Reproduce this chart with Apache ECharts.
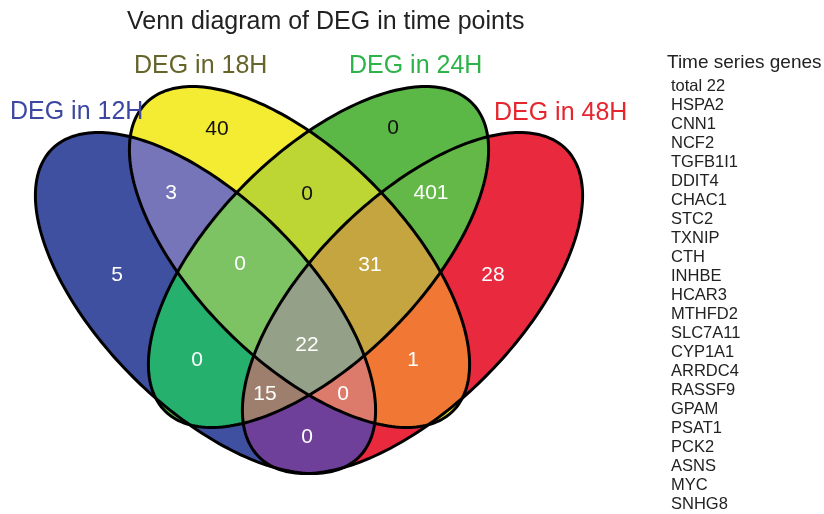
<!DOCTYPE html>
<html>
<head>
<meta charset="utf-8">
<script src="https://cdn.jsdelivr.net/npm/echarts@6/dist/echarts.min.js"></script>
<style>
  html, body { margin: 0; padding: 0; background: #fff; }
  #venn { width: 824px; height: 514px; }
</style>
</head>
<body>
<div id="venn"></div>
<script>
// data
const setNames = ['DEG in 12H', 'DEG in 18H', 'DEG in 24H', 'DEG in 48H'];
const regionSets = [
    [0], [1], [2], [3],
    [0, 1], [1, 2], [2, 3], [0, 2], [1, 3], [0, 3],
    [0, 1, 2], [1, 2, 3], [0, 2, 3], [0, 1, 3],
    [0, 1, 2, 3]
];
const regionCounts = [5, 40, 0, 28, 3, 0, 401, 0, 1, 0, 0, 31, 15, 0, 22];
const geneTitle = 'Time series genes';
const genes = ['total 22', 'HSPA2', 'CNN1', 'NCF2', 'TGFB1I1', 'DDIT4', 'CHAC1', 'STC2',
    'TXNIP', 'CTH', 'INHBE', 'HCAR3', 'MTHFD2', 'SLC7A11', 'CYP1A1', 'ARRDC4', 'RASSF9',
    'GPAM', 'PSAT1', 'PCK2', 'ASNS', 'MYC', 'SNHG8'];

// layout / style
const ellipses = [
    {cx: 205.5, cy: 303, angle: 45.1},
    {cx: 299.5, cy: 257, angle: 45.1},
    {cx: 318.5, cy: 257, angle: 134.9},
    {cx: 412.5, cy: 303, angle: 134.9}
];
const rx = 217.4, ry = 103.6;
const labelPos = [
    [117, 275], [217, 129], [393, 128], [493, 275],
    [171, 193], [307, 194], [431, 193], [197, 360], [413, 360], [307, 437],
    [240, 264], [370, 265], [265, 394], [343, 394],
    [307, 345]
];
const regionColors = [
    '#3f50a0', '#f4eb33', '#5cb846', '#e92a3e',
    '#7675b9', '#bed634', '#63b848', '#26b06e', '#f07834', '#6e4099',
    '#7dc364', '#c5a540', '#9e7e6c', '#dc7b6c',
    '#94a088'
];
const labelColors = regionSets.map((s, i) => (i === 1 || i === 2 || i === 5) ? '#111' : '#fff');
const setColors = ['#3b47a0', '#66642a', '#2db34a', '#e5262f'];
const setLabelPos = [[10, 100], [134, 54], [349, 54], [494, 101]];
const FONT = 'Liberation Sans, Arial, sans-serif';

function ellipsePoints(e, api) {
    let pts = [];
    let th = e.angle * Math.PI / 180;
    for (let k = 0; k < 240; k++) {
        let t = k / 240 * Math.PI * 2;
        let x = e.cx + rx * Math.cos(t) * Math.cos(th) - ry * Math.sin(t) * Math.sin(th);
        let y = e.cy + rx * Math.cos(t) * Math.sin(th) + ry * Math.sin(t) * Math.cos(th);
        pts.push(api.coord([x, y]));
    }
    return pts;
}

function area(p) {
    let s = 0;
    for (let i = 0; i < p.length; i++) {
        let a = p[i], b = p[(i + 1) % p.length];
        s += a[0] * b[1] - b[0] * a[1];
    }
    return s;
}

// Sutherland-Hodgman, clip polygon is convex
function clip(subject, clipPoly) {
    let sgn = area(clipPoly) > 0 ? 1 : -1;
    let out = subject;
    for (let i = 0; i < clipPoly.length && out.length; i++) {
        let a = clipPoly[i], b = clipPoly[(i + 1) % clipPoly.length];
        let side = p => sgn * ((b[0] - a[0]) * (p[1] - a[1]) - (b[1] - a[1]) * (p[0] - a[0]));
        let inp = out;
        out = [];
        for (let j = 0; j < inp.length; j++) {
            let p = inp[j], q = inp[(j + 1) % inp.length];
            let dp = side(p), dq = side(q);
            if (dp >= 0) out.push(p);
            if ((dp >= 0) !== (dq >= 0)) {
                let t = dp / (dp - dq);
                out.push([p[0] + t * (q[0] - p[0]), p[1] + t * (q[1] - p[1])]);
            }
        }
    }
    return out;
}

let myChart = echarts.init(document.getElementById('venn'));
let option = {
    backgroundColor: '#fff',
    animation: false,
    title: [
        {
            text: 'Venn diagram of DEG in time points',
            left: 127, top: 10, padding: 0,
            textStyle: {fontFamily: FONT, fontSize: 25, fontWeight: 'normal', color: '#222'}
        },
        ...setNames.map((n, i) => ({
            text: n, left: setLabelPos[i][0], top: setLabelPos[i][1], padding: 0,
            textStyle: {fontFamily: FONT, fontSize: 25, fontWeight: 'normal', color: setColors[i]}
        })),
        {
            text: geneTitle, left: 667, top: 53, padding: 0,
            textStyle: {fontFamily: FONT, fontSize: 19, fontWeight: 'normal', color: '#222'}
        },
        {
            text: genes.join('\n'), left: 671, top: 77, padding: 0,
            textStyle: {fontFamily: FONT, fontSize: 16.5, lineHeight: 19, fontWeight: 'normal', color: '#222'}
        }
    ],
    grid: {left: 0, right: 0, top: 0, bottom: 0},
    xAxis: {type: 'value', min: 0, max: 824, show: false},
    yAxis: {type: 'value', min: 0, max: 514, inverse: true, show: false},
    series: [
        {
            type: 'custom',
            silent: true,
            z: 2,
            data: regionSets.map((s, i) => [i]),
            encode: {x: 0},
            renderItem: function (params, api) {
                let idx = api.value(0);
                let sets = regionSets[idx];
                let poly = ellipsePoints(ellipses[sets[0]], api);
                for (let k = 1; k < sets.length; k++) {
                    poly = clip(poly, ellipsePoints(ellipses[sets[k]], api));
                }
                return {
                    type: 'polygon',
                    z2: idx,
                    shape: {points: poly},
                    style: {fill: regionColors[idx], stroke: regionColors[idx], lineWidth: 0.6}
                };
            }
        },
        {
            type: 'custom',
            silent: true,
            z: 3,
            data: setNames.map((n, i) => [i]),
            encode: {x: 0},
            renderItem: function (params, api) {
                return {
                    type: 'polygon',
                    shape: {points: ellipsePoints(ellipses[api.value(0)], api)},
                    style: {fill: 'none', stroke: '#000', lineWidth: 3}
                };
            }
        },
        {
            type: 'custom',
            silent: true,
            z: 4,
            data: regionCounts.map((c, i) => [labelPos[i][0], labelPos[i][1], c, i]),
            encode: {x: 0, y: 1},
            renderItem: function (params, api) {
                let p = api.coord([api.value(0), api.value(1)]);
                return {
                    type: 'text',
                    x: p[0],
                    y: p[1],
                    style: {
                        text: String(api.value(2)),
                        fill: labelColors[api.value(3)],
                        font: '21px ' + FONT,
                        textAlign: 'center',
                        textVerticalAlign: 'middle'
                    }
                };
            }
        }
    ]
};
myChart.setOption(option);
</script>
</body>
</html>
